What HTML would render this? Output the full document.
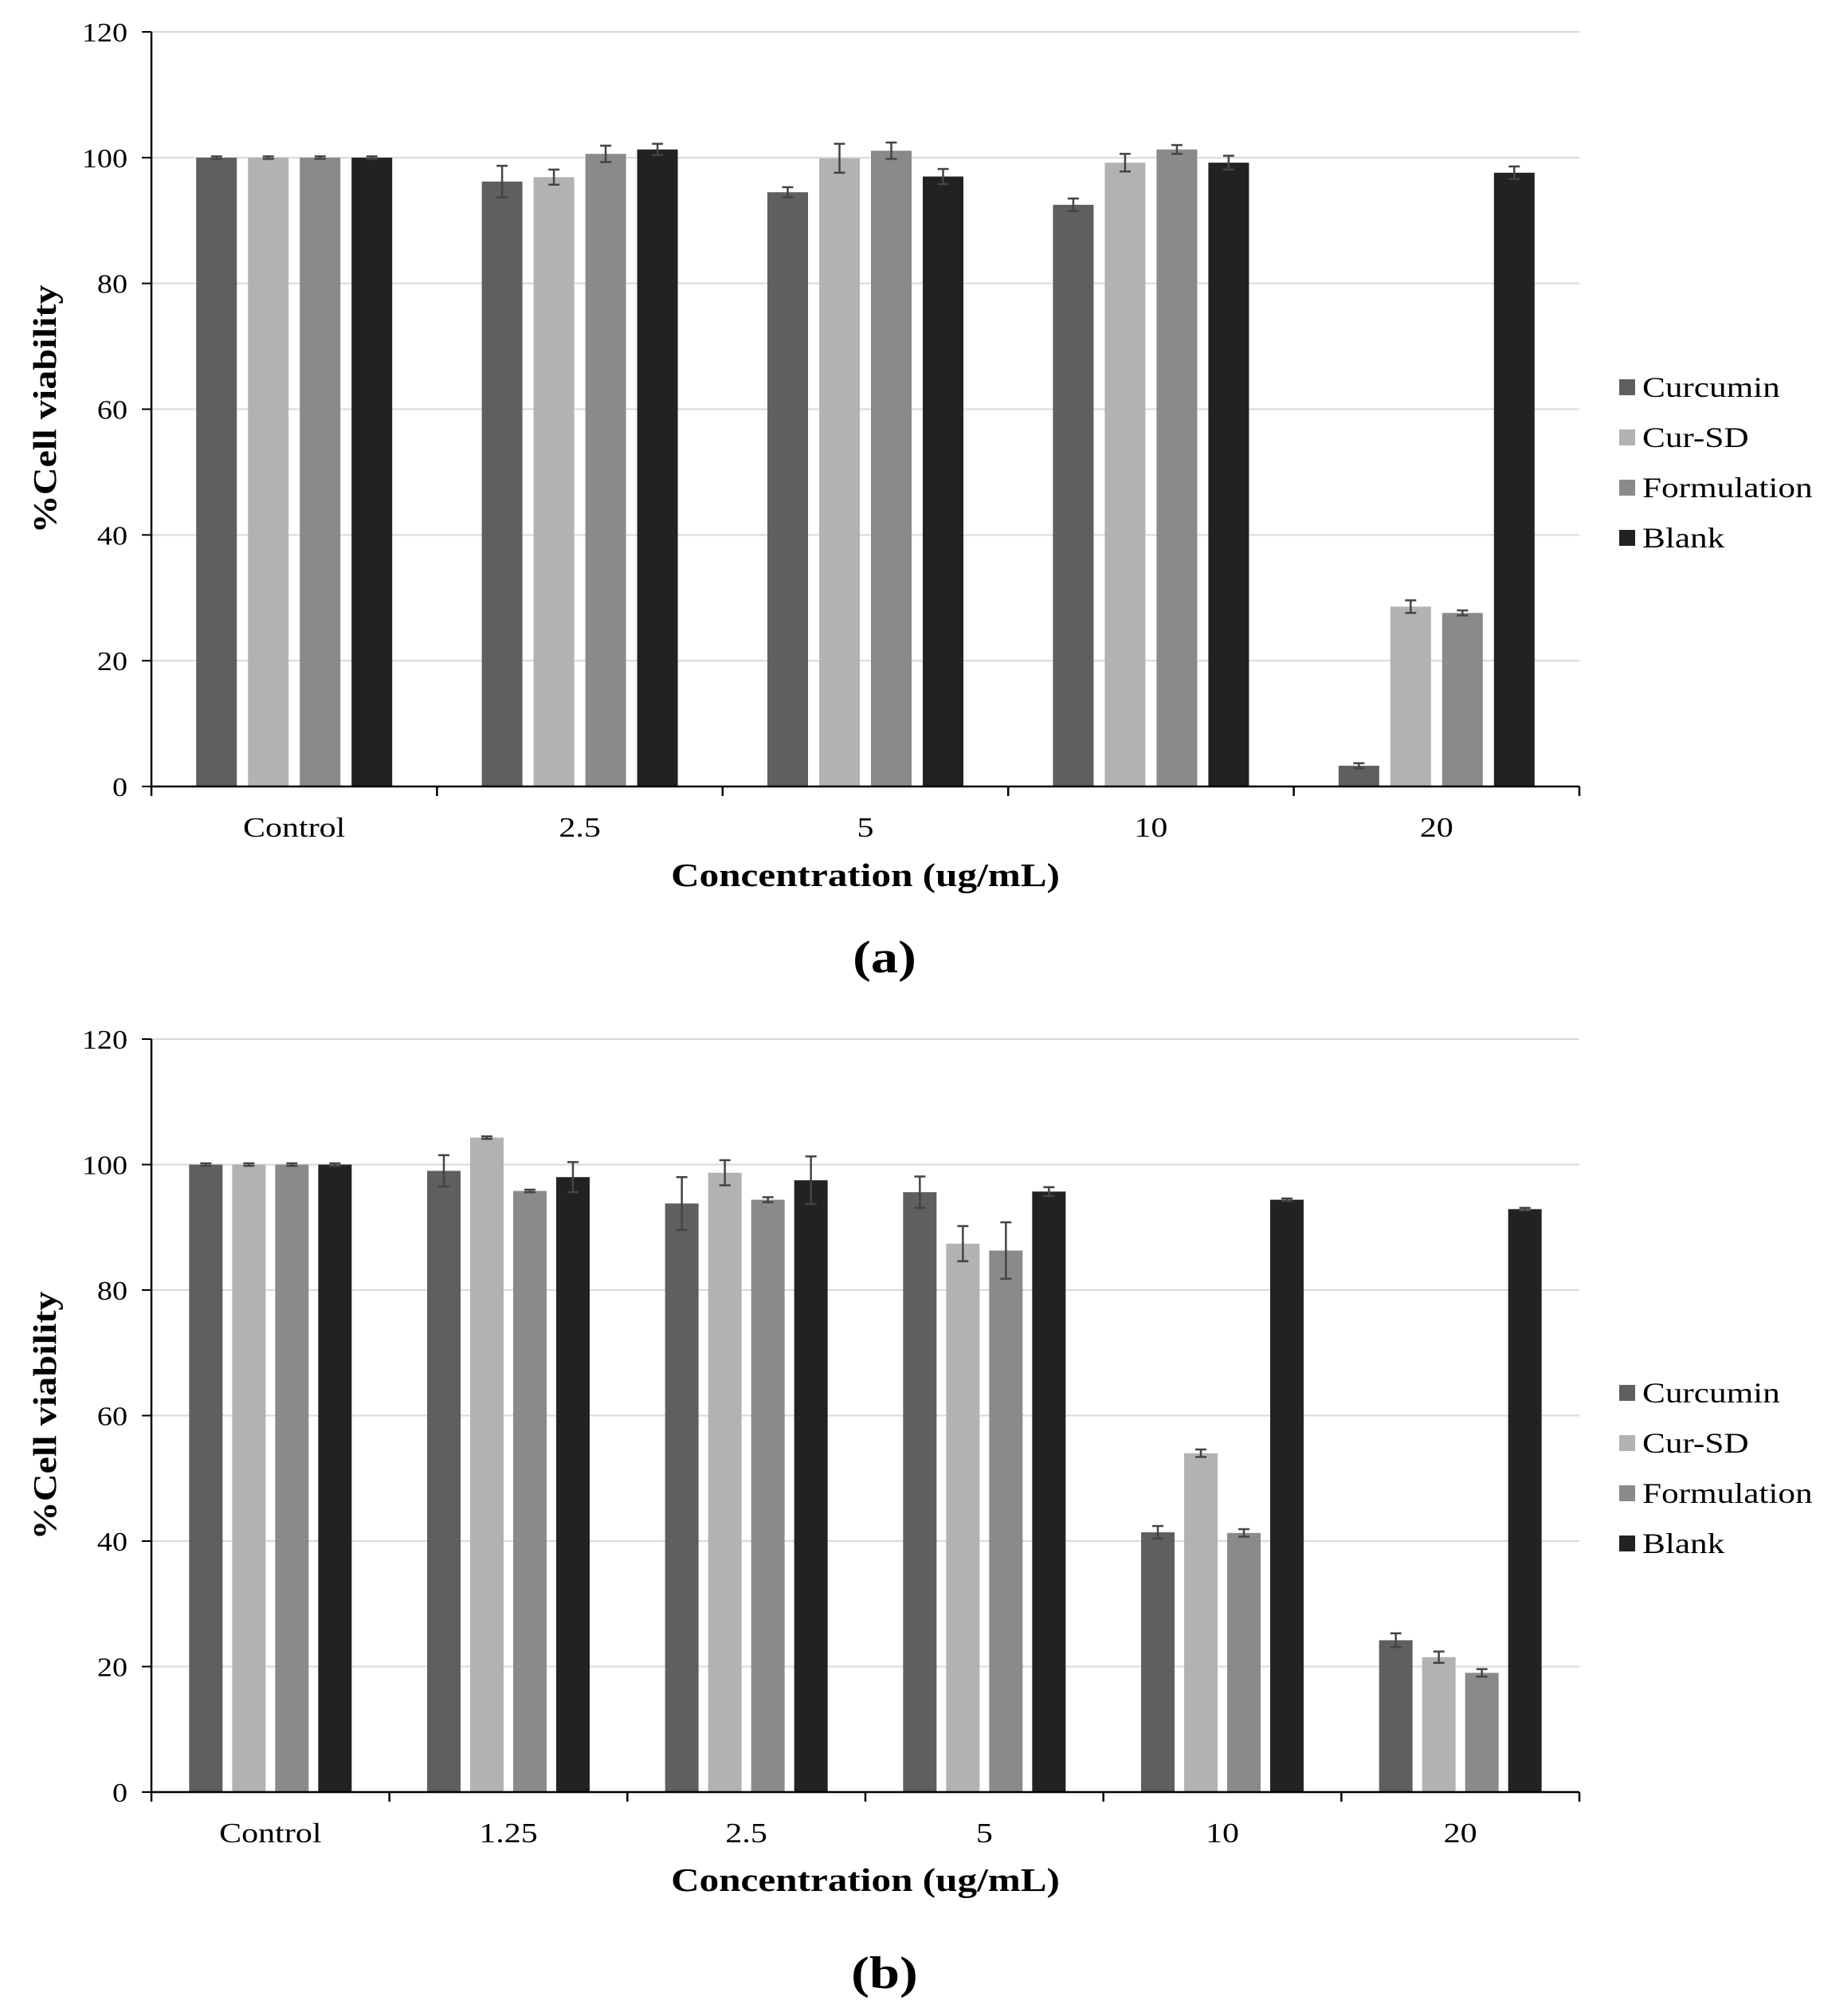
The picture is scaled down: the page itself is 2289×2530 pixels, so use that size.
<!DOCTYPE html>
<html><head><meta charset="utf-8"><style>
html,body{margin:0;padding:0;background:#fff;}
svg{display:block;font-family:"Liberation Serif","Times New Roman",serif;}
</style></head><body>
<svg id="svg" width="2289" height="2530" viewBox="0 0 2289 2530" xmlns="http://www.w3.org/2000/svg"></svg>
<script>
const seriesNames = ["Curcumin","Cur-SD","Formulation","Blank"];
const seriesColors = ["#5f5f5f","#b2b2b2","#8a8a8a","#222222"];
const yTicks = [0,20,40,60,80,100,120];

const catsA = ["Control","2.5","5","10","20"];
const curA = [100,96.2,94.5,92.5,3.3];
const sdA = [100,96.9,99.9,99.2,28.6];
const formA = [100,100.6,101.1,101.3,27.6];
const blankA = [100,101.3,97.0,99.2,97.6];
const curErrA = [0.2,2.5,0.8,1.0,0.4];
const sdErrA = [0.2,1.2,2.3,1.4,1.0];
const formErrA = [0.2,1.3,1.3,0.7,0.4];
const blankErrA = [0.2,0.9,1.2,1.1,1.0];

const catsB = ["Control","1.25","2.5","5","10","20"];
const curB = [100,99.0,93.8,95.6,41.4,24.2];
const sdB = [100,104.3,98.7,87.4,54.0,21.5];
const formB = [100,95.8,94.4,86.3,41.3,19.0];
const blankB = [100,98.0,97.5,95.7,94.4,92.9];
const curErrB = [0.2,2.5,4.2,2.5,1.0,1.1];
const sdErrB = [0.2,0.2,2.0,2.8,0.6,0.9];
const formErrB = [0.2,0.2,0.4,4.5,0.6,0.6];
const blankErrB = [0.2,2.4,3.8,0.7,0.2,0.2];

const NS = "http://www.w3.org/2000/svg";
const svg = document.getElementById('svg');
function mk(tag, attrs, parent){
  const e = document.createElementNS(NS, tag);
  for (const k in attrs) e.setAttribute(k, attrs[k]);
  (parent||svg).appendChild(e);
  return e;
}
function stretch(t, k, fixed){
  const L = fixed || t.getComputedTextLength()*k;
  t.setAttribute('textLength', L);
  t.setAttribute('lengthAdjust', 'spacingAndGlyphs');
}

function drawChart(cfg){
  const g = mk('g', {});
  
  
  const x0 = 190, x1 = 1982, yTop = cfg.yTop, yBot = cfg.yBot;
  const yScale = v => yBot - (v/120)*(yBot-yTop);
  const n = cfg.cats.length, cw = (x1-x0)/n;
  const xCenter = i => x0 + cw*(i+0.5);
  yTicks.forEach(t => {
    const y = yScale(t);
    if (t>0){
      const gl = mk('line',{x1:x0,x2:x1,y1:y,y2:y,stroke:'#d9d9d9','stroke-width':2},g);
      
      
    }
    const tk = mk('line',{x1:x0-12,x2:x0,y1:y,y2:y,stroke:'#000','stroke-width':2},g);
    
    
    const tl = mk('text',{x:x0-30,y:y+12,'text-anchor':'end','font-size':34,fill:'#000'},g);
    
    
    tl.textContent = t;
    stretch(tl, 1.12);
  });
  cfg.values.forEach((vals, s) => {
    vals.forEach((v, i) => {
      const cx = xCenter(i) + (s-1.5)*cfg.step;
      const bx = cx - cfg.bw/2, by = yScale(v);
      const r = mk('rect',{x:bx,y:by,width:cfg.bw,height:yBot-by,fill:seriesColors[s]},g);
      
      
      const e = cfg.errs[s][i];
      const eg = mk('g',{stroke:'#444','stroke-width':2.5},g);
      
      
      mk('line',{x1:cx,x2:cx,y1:yScale(v+e),y2:yScale(v-e)},eg);
      mk('line',{x1:cx-7,x2:cx+7,y1:yScale(v+e),y2:yScale(v+e)},eg);
      mk('line',{x1:cx-7,x2:cx+7,y1:yScale(v-e),y2:yScale(v-e)},eg);
    });
  });
  const ya = mk('line',{x1:x0,x2:x0,y1:yTop,y2:yBot,stroke:'#000','stroke-width':2.5},g);
  
  
  const xa = mk('line',{x1:x0,x2:x1,y1:yBot,y2:yBot,stroke:'#000','stroke-width':2.5},g);
  
  
  for (let i=0;i<=n;i++){
    const xt = mk('line',{x1:x0+cw*i,x2:x0+cw*i,y1:yBot,y2:yBot+12,stroke:'#000','stroke-width':2.5},g);
    
    
  }
  cfg.cats.forEach((c,i) => {
    const t = mk('text',{x:xCenter(i),y:cfg.labelY,'text-anchor':'middle','font-size':35,fill:'#000'},g);
    
    
    t.textContent = c;
    stretch(t, 1.2);
  });
  const xt = mk('text',{x:1086,y:cfg.titleY,'text-anchor':'middle','font-size':41,'font-weight':'bold',fill:'#000'},g);
  
  
  xt.textContent = 'Concentration (ug/mL)';
  stretch(xt, 1.2);
  const ycy = (yTop+yBot)/2;
  const yt = mk('text',{x:70,y:ycy,'text-anchor':'middle','font-size':41,'font-weight':'bold',fill:'#000',transform:'rotate(-90 70 '+ycy+')'},g);
  
  
  yt.textContent = '%Cell viability';
  stretch(yt, 1, 312);
  const pl = mk('text',{x:1110,y:cfg.panelY,'text-anchor':'middle','font-size':57,'font-weight':'bold',fill:'#000'},g);
  
  
  pl.textContent = cfg.panel;
  stretch(pl, 1.2);
  const lg = mk('g',{},g);
  
  
  seriesNames.forEach((nm,s) => {
    const ly = cfg.legendY + s*63;
    const eg = mk('g',{},lg);
    
    
    mk('rect',{x:2032,y:ly-10,width:20,height:20,fill:seriesColors[s]},eg);
    const t = mk('text',{x:2061,y:ly+12,'font-size':36,fill:'#000'},eg);
    t.textContent = nm;
    stretch(t, 1.2);
  });
}

drawChart({name:'chart-a',cats:catsA,values:[curA,sdA,formA,blankA],errs:[curErrA,sdErrA,formErrA,blankErrA],
  yTop:40,yBot:987,bw:51,step:65,labelY:1050,titleY:1112,panelY:1220,panel:'(a)',legendY:486});
drawChart({name:'chart-b',cats:catsB,values:[curB,sdB,formB,blankB],errs:[curErrB,sdErrB,formErrB,blankErrB],
  yTop:1304,yBot:2249,bw:42,step:54,labelY:2312,titleY:2373,panelY:2495,panel:'(b)',legendY:1748});
</script>
</body></html>
